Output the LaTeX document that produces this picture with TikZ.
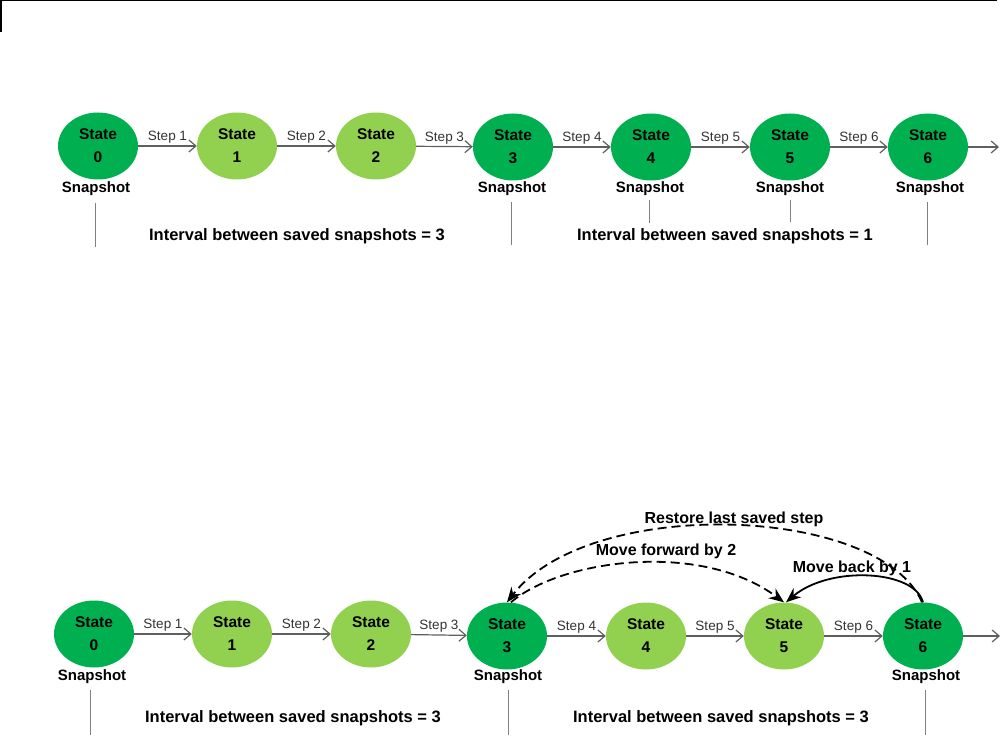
\documentclass[tikz,border=0pt]{standalone}
\usepackage{fontspec}
\setmainfont{Liberation Sans}
\usetikzlibrary{shapes.geometric,arrows.meta,calc}
\definecolor{dkgreen}{RGB}{0,176,80}
\definecolor{ltgreen}{RGB}{146,208,80}
\definecolor{arrgray}{RGB}{95,95,95}
\definecolor{lingray}{RGB}{128,128,128}
\begin{document}
\begin{tikzpicture}[x=1pt,y=-1pt,
 state/.style={ellipse, minimum width=80pt, minimum height=67pt, inner sep=1pt, align=center, font=\bfseries\fontsize{15.5}{23}\selectfont},
 dark/.style={state, fill=dkgreen},
 light/.style={state, fill=ltgreen},
 snap/.style={font=\bfseries\fontsize{15}{18}\selectfont, inner sep=0pt},
 stepline/.style={draw=arrgray, line width=1.2pt, -{Straight Barb[length=7pt,width=12pt]}},
 steplbl/.style={font=\fontsize{13.5}{16}\selectfont, text=black!80, above, inner sep=2pt},
 interval/.style={font=\bfseries\fontsize{16.5}{20}\selectfont, inner sep=0pt},
 divider/.style={draw=lingray, line width=0.8pt},
 jump/.style={draw=black, line width=1.8pt, -{Stealth[length=15pt,width=12pt]}},
 jumpdash/.style={jump, dash pattern=on 9pt off 5pt},
 jumplbl/.style={font=\bfseries\fontsize{16}{19}\selectfont, inner sep=0pt}
]
\useasboundingbox (0,0) rectangle (1004,743);
% frame corner
\draw[line width=1.5pt] (0.75,32) -- (0.75,0.75) -- (997,0.75);

% ---------- top row ----------
\node[dark]  (a0) at (98,146)  {State\\0};
\node[light] (a1) at (237,146) {State\\1};
\node[light] (a2) at (376,146) {State\\2};
\node[dark]  (a3) at (513,147) {State\\3};
\node[dark]  (a4) at (651,147) {State\\4};
\node[dark]  (a5) at (790,147) {State\\5};
\node[dark]  (a6) at (928,147) {State\\6};
\coordinate (aend) at (999,147);

\draw[stepline] (a0) -- node[steplbl]{Step 1} (a1);
\draw[stepline] (a1) -- node[steplbl]{Step 2} (a2);
\draw[stepline] (a2) -- node[steplbl]{Step 3} (a3);
\draw[stepline] (a3) -- node[steplbl]{Step 4} (a4);
\draw[stepline] (a4) -- node[steplbl]{Step 5} (a5);
\draw[stepline] (a5) -- node[steplbl]{Step 6} (a6);
\draw[stepline] (a6) -- (aend);

\node[snap] (sa0) at (96,189) {Snapshot};
\node[snap] (sa3) at (512,189) {Snapshot};
\node[snap] (sa4) at (650,189) {Snapshot};
\node[snap] (sa5) at (790,189) {Snapshot};
\node[snap] (sa6) at (930,189) {Snapshot};

\draw[divider] (95,203) -- (95,247);
\draw[divider] (511,202) -- (511,245);
\draw[divider] (649,200) -- (649,223);
\draw[divider] (790,200) -- (790,222);
\draw[divider] (927,202) -- (927,245);

\node[interval] (ia1) at (297,236) {Interval between saved snapshots = 3};
\node[interval] (ia2) at (725,236) {Interval between saved snapshots = 1};

% ---------- bottom row ----------
\node[dark]  (b0) at (94,634)  {State\\0};
\node[light] (b1) at (232,634) {State\\1};
\node[light] (b2) at (371,634) {State\\2};
\node[dark]  (b3) at (507,636) {State\\3};
\node[light] (b4) at (646,636) {State\\4};
\node[light] (b5) at (784,636) {State\\5};
\node[dark]  (b6) at (923,636) {State\\6};
\coordinate (bend) at (1000,636);

\draw[stepline] (b0) -- node[steplbl]{Step 1} (b1);
\draw[stepline] (b1) -- node[steplbl]{Step 2} (b2);
\draw[stepline] (b2) -- node[steplbl]{Step 3} (b3);
\draw[stepline] (b3) -- node[steplbl]{Step 4} (b4);
\draw[stepline] (b4) -- node[steplbl]{Step 5} (b5);
\draw[stepline] (b5) -- node[steplbl]{Step 6} (b6);
\draw[stepline] (b6) -- (bend);

\node[snap] (sb0) at (92,677) {Snapshot};
\node[snap] (sb3) at (508,677) {Snapshot};
\node[snap] (sb6) at (926,677) {Snapshot};

\draw[divider] (90,690) -- (90,735);
\draw[divider] (508,690) -- (508,735);
\draw[divider] (925,690) -- (925,735);

\node[interval] (ib1) at (293,718) {Interval between saved snapshots = 3};
\node[interval] (ib2) at (721,718) {Interval between saved snapshots = 3};

% jumps
\draw[jumpdash] ([xshift=-1pt]b6.north) .. controls (880,505) and (590,495) .. (b3.north);
\draw[jumpdash] ([xshift=4pt]b3.north) .. controls (560,560) and (700,540) .. (b5.north);
\draw[jump] (b6.north) .. controls (915,570) and (830,565) .. ([xshift=2pt]b5.north);

\node[jumplbl] (l1) at (734,519) {Restore last saved step};
\node[jumplbl] (l2) at (666,551) {Move forward by 2};
\node[jumplbl] (l3) at (852,568) {Move back by 1};
\end{tikzpicture}
\end{document}
